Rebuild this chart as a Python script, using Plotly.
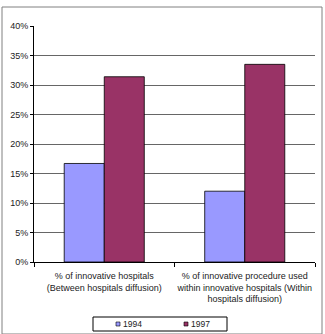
import plotly.graph_objects as go

categories = [
    "% of innovative hospitals<br>(Between hospitals diffusion)",
    "% of innovative procedure used<br>within innovative hospitals (Within<br>hospitals diffusion)",
]
series_names = ["1994", "1997"]
values_1994 = [0.167, 0.120]
values_1997 = [0.314, 0.335]
colors = ["#9999FF", "#993366"]
y_ticks = [0, 0.05, 0.10, 0.15, 0.20, 0.25, 0.30, 0.35, 0.40]

fig = go.Figure()
for name, vals, col in zip(series_names, [values_1994, values_1997], colors):
    fig.add_trace(go.Bar(
        x=categories, y=vals, name=name,
        marker=dict(color=col, line=dict(color="#000000", width=0.8)),
    ))

# geometry of the plot area in pixels (for placing the frame & legend)
L, R, T, B = 34, 315, 26, 262
W, H = R - L, B - T
def px(x):
    return (x - L) / W
def py(y):
    return (B - y) / H

font = "Liberation Sans, Arial, sans-serif"
shapes = [
    dict(type="rect", xref="paper", yref="paper",
         x0=px(2), x1=px(322), y0=py(334), y1=py(7),
         line=dict(color="#808080", width=1), layer="below"),
    dict(type="rect", xref="paper", yref="paper",
         x0=px(93), x1=px(227), y0=py(331), y1=py(317),
         line=dict(color="#000000", width=1), fillcolor="white"),
]
annotations = []
legend_x = [116, 184]
for name, col, lx in zip(series_names, colors, legend_x):
    shapes.append(dict(type="rect", xref="paper", yref="paper",
                       x0=px(lx), x1=px(lx + 4), y0=py(326), y1=py(322),
                       line=dict(color="#000000", width=0.6), fillcolor=col))
    annotations.append(dict(x=px(lx + 5), y=py(324), xref="paper", yref="paper",
                            text=name, showarrow=False, xanchor="left", yanchor="middle",
                            font=dict(size=8.5, color="#222222")))

fig.update_layout(
    width=325, height=334,
    margin=dict(l=L, r=325 - R, t=T, b=334 - B),
    paper_bgcolor="white", plot_bgcolor="white",
    barmode="group", bargap=0.43, bargroupgap=0,
    font=dict(family=font, size=9, color="#222222"),
    showlegend=False,
    xaxis=dict(
        showline=True, linecolor="#000000", linewidth=1,
        ticks="outside", tickson="boundaries", ticklen=4, tickcolor="#000000",
        showgrid=False, tickangle=0, ticklabelstandoff=5,
        tickfont=dict(size=9, color="#222222"), automargin=False,
    ),
    yaxis=dict(
        range=[0, 0.4], tickvals=y_ticks, tickformat=".0%",
        showline=True, linecolor="#000000", linewidth=1,
        ticks="outside", ticklen=3, tickcolor="#000000",
        showgrid=True, gridcolor="#666666", gridwidth=1,
        zeroline=False, tickfont=dict(size=9, color="#222222"), automargin=False,
    ),
    shapes=shapes,
    annotations=annotations,
)

fig.write_html("out.html")
